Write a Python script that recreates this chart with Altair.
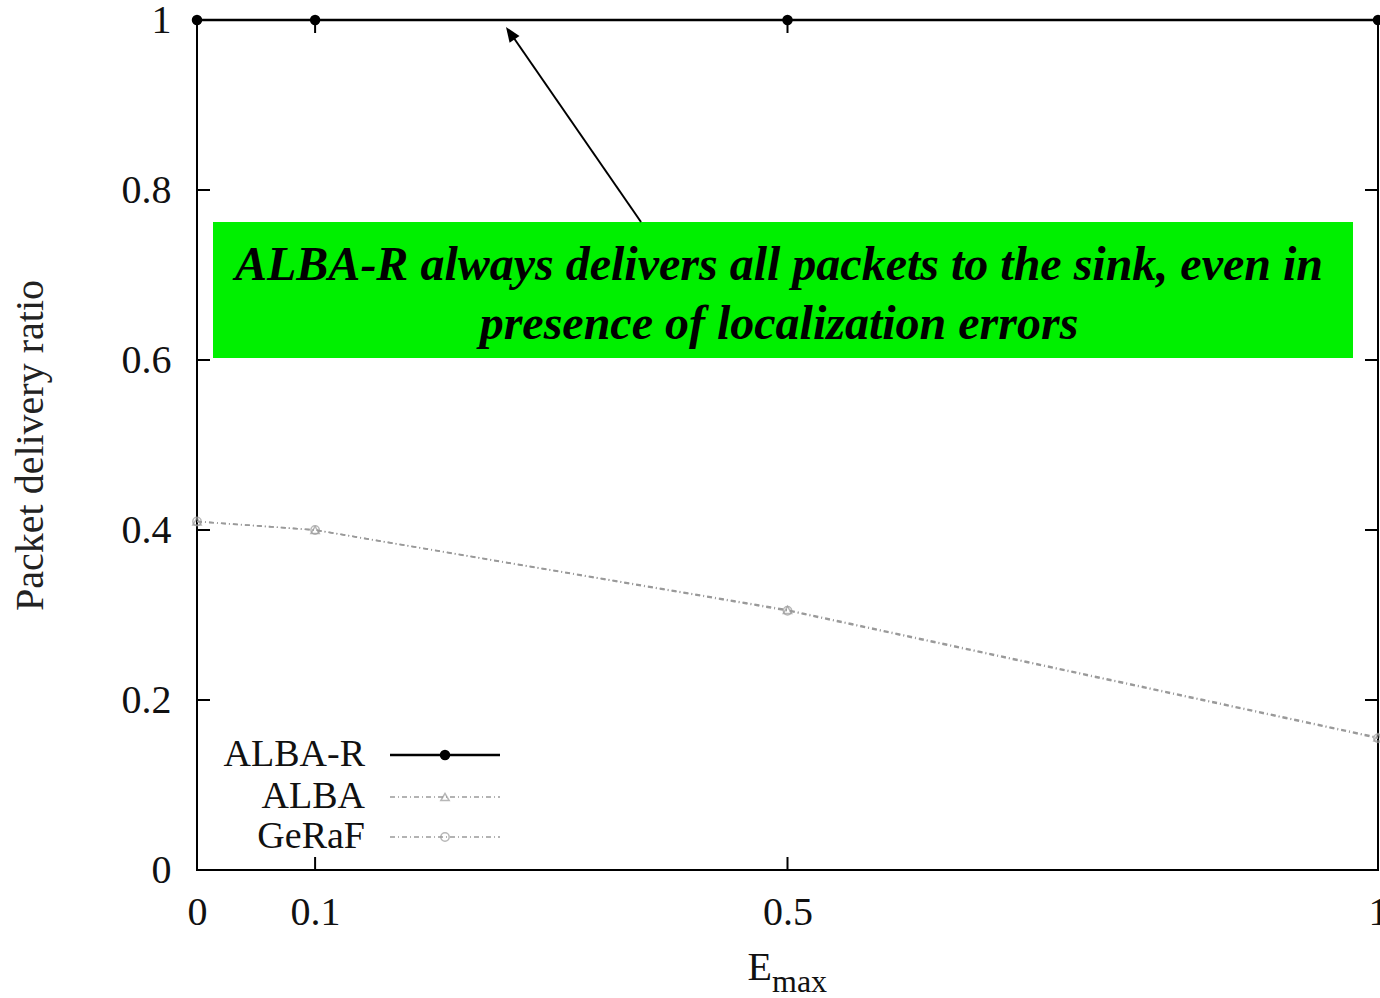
import altair as alt
import pandas as pd

# ---- data ----
emax = [0, 0.1, 0.5, 1]
alba_r = [1.0, 1.0, 1.0, 1.0]
alba = [0.41, 0.40, 0.306, 0.156]
geraf = [0.41, 0.40, 0.305, 0.155]
series_names = ["ALBA-R", "ALBA", "GeRaF"]
x_ticks = [0, 0.1, 0.5, 1]
y_ticks = [0, 0.2, 0.4, 0.6, 0.8, 1]
note_lines = ["ALBA-R always delivers all packets to the sink, even in",
              "presence of localization errors"]
x_title_main = "E"
x_title_sub = "max"
y_title = "Packet delivery ratio"

W, H = 1181, 850
FONT = "Liberation Serif"
GRAY = "#9a9a9a"
DASH = [5, 3, 1, 3]

df = pd.DataFrame({
    "emax": emax * 3,
    "pdr": alba_r + alba + geraf,
    "series": [n for n in series_names for _ in emax],
})
df_r = df[df.series == "ALBA-R"]
df_g = df[df.series != "ALBA-R"]
one = pd.DataFrame({"k": [0]})
xt = pd.DataFrame({"emax": x_ticks})
yt = pd.DataFrame({"pdr": y_ticks})

xs = alt.Scale(domain=[0, 1], nice=False, zero=False)
ys = alt.Scale(domain=[0, 1], nice=False)

x_axis = alt.Axis(values=x_ticks, format="~g", labelPadding=22, labelFlush=False, title=None)
y_axis = alt.Axis(values=y_ticks, format="~g", labelPadding=26, labelFlush=False,
                  title=y_title, titleFontSize=40, titleFontWeight="normal", titleColor="#222",
                  titleX=-167, titleY=425, titleAngle=270, titleAlign="center",
                  titleBaseline="middle")

X = alt.X("emax:Q", scale=xs, axis=x_axis)
Y = alt.Y("pdr:Q", scale=ys, axis=y_axis)

gray_lines = alt.Chart(df_g).mark_line(color=GRAY, strokeWidth=1.6, strokeDash=DASH).encode(
    x=X, y=Y, detail="series:N",
)
gray_pts = alt.Chart(df_g).mark_point(filled=False, color=GRAY, size=70, strokeWidth=1.5).encode(
    x=X, y=Y,
    shape=alt.Shape("series:N", scale=alt.Scale(domain=["ALBA", "GeRaF"],
                                                range=["triangle-up", "circle"]), legend=None),
)
black_line = alt.Chart(df_r).mark_line(color="black", strokeWidth=2.5).encode(x=X, y=Y)
black_pts = alt.Chart(df_r).mark_circle(color="black", size=110, opacity=1).encode(x=X, y=Y)

TL = 13
tick_layers = [
    alt.Chart(yt).mark_rule(color="black", strokeWidth=2).encode(
        y=Y, x=alt.value(0), x2=alt.value(TL)),
    alt.Chart(yt).mark_rule(color="black", strokeWidth=2).encode(
        y=Y, x=alt.value(W - TL), x2=alt.value(W)),
    alt.Chart(xt).mark_rule(color="black", strokeWidth=2).encode(
        x=X, y=alt.value(H - TL), y2=alt.value(H)),
    alt.Chart(xt).mark_rule(color="black", strokeWidth=2).encode(
        x=X, y=alt.value(0), y2=alt.value(TL)),
]

# ---- legend (gnuplot style: label, then sample) ----
legend_layers = []
leg_y = [735, 777, 817]
for name, ly in zip(series_names, leg_y):
    d = pd.DataFrame({"label": [name]})
    legend_layers.append(alt.Chart(d).mark_text(
        align="right", baseline="middle", font=FONT, fontSize=38, color="#111").encode(
        text="label:N", x=alt.value(168), y=alt.value(ly)))
    if name == "ALBA-R":
        legend_layers.append(alt.Chart(d).mark_rule(color="black", strokeWidth=2.5).encode(
            x=alt.value(193), x2=alt.value(303), y=alt.value(ly)))
        legend_layers.append(alt.Chart(d).mark_circle(color="black", size=110, opacity=1).encode(
            x=alt.value(248), y=alt.value(ly)))
    else:
        legend_layers.append(alt.Chart(d).mark_rule(color=GRAY, strokeWidth=1.6, strokeDash=DASH).encode(
            x=alt.value(193), x2=alt.value(303), y=alt.value(ly)))
        legend_layers.append(alt.Chart(d).mark_point(
            filled=False, color=GRAY, size=70, strokeWidth=1.5,
            shape="triangle-up" if name == "ALBA" else "circle").encode(
            x=alt.value(248), y=alt.value(ly)))

# ---- x axis title with subscript ----
xtitle = [
    alt.Chart(pd.DataFrame({"t": [x_title_main]})).mark_text(
        align="right", baseline="alphabetic", font=FONT, fontSize=40, color="#111").encode(
        text="t:N", x=alt.value(575), y=alt.value(960)),
    alt.Chart(pd.DataFrame({"t": [x_title_sub]})).mark_text(
        align="left", baseline="alphabetic", font=FONT, fontSize=32, color="#111").encode(
        text="t:N", x=alt.value(575), y=alt.value(972)),
]

# ---- annotation ----
box = alt.Chart(one).mark_rect(color="#00f000", opacity=1).encode(
    x=alt.value(16), x2=alt.value(1156), y=alt.value(202), y2=alt.value(338))
note = [
    alt.Chart(pd.DataFrame({"t": [note_lines[0]]})).mark_text(
        align="center", baseline="alphabetic", font=FONT, fontSize=48, fontStyle="italic",
        fontWeight="bold", color="black").encode(text="t:N", x=alt.value(582), y=alt.value(260)),
    alt.Chart(pd.DataFrame({"t": [note_lines[1]]})).mark_text(
        align="center", baseline="alphabetic", font=FONT, fontSize=48, fontStyle="italic",
        fontWeight="bold", color="black").encode(text="t:N", x=alt.value(582), y=alt.value(319)),
]
arrow_shaft = alt.Chart(one).mark_rule(color="black", strokeWidth=2).encode(
    x=alt.value(444), x2=alt.value(312), y=alt.value(202), y2=alt.value(11))
arrow_head = alt.Chart(one).mark_point(
    shape="M0,0L-0.4,1L0.4,1Z", filled=True, color="black", size=900, angle=325.3, opacity=1
).encode(x=alt.value(309), y=alt.value(7))

chart = alt.layer(
    gray_lines, gray_pts, black_line, black_pts, *tick_layers, *legend_layers, *xtitle,
    box, *note, arrow_shaft, arrow_head,
).properties(
    width=W, height=H,
    padding={"left": 197, "top": 20, "right": 2, "bottom": 128},
    autosize=alt.AutoSizeParams(type="none"),
    background="white",
).configure_view(
    stroke="black", strokeWidth=2,
).configure_axis(
    grid=False, domain=False, ticks=False,
    labelFont=FONT, labelFontSize=40, labelColor="#111", titleFont=FONT,
)

chart.save("out.html", embed_options={"renderer": "svg", "actions": False})
